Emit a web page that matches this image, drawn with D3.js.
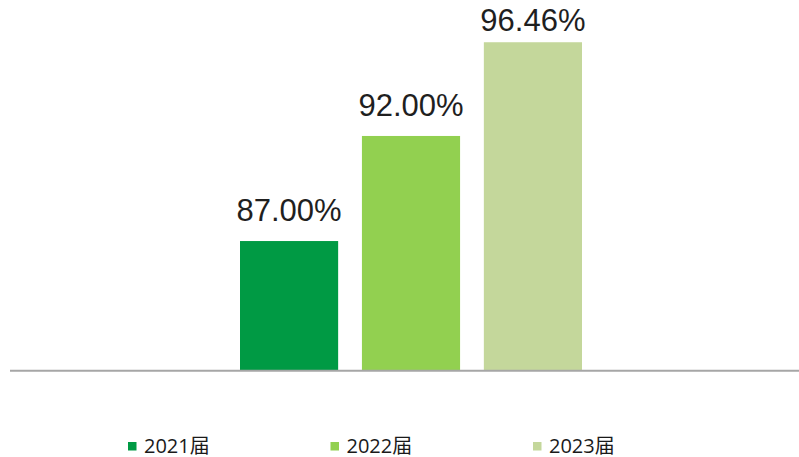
<!DOCTYPE html>
<html>
<head>
<meta charset="utf-8">
<script src="https://cdn.jsdelivr.net/npm/d3@7"></script>
<style>
  body { margin: 0; background: #fff; }
  svg { display: block; }
  .value { font-family: "Liberation Sans", Arial, sans-serif; font-size: 31px; fill: #1f1f1f; }
  .legend text { font-family: "Open Sans", "Noto Sans CJK SC", sans-serif; font-size: 20px; fill: #1a1a1a; }
</style>
</head>
<body>
<svg id="chart"></svg>
<script>
// dados
var categorias = ['2021届', '2022届', '2023届']
var valores = [87.00, 92.00, 96.46]
var cores = ['#009a44', '#92d050', '#c4d79b']

function desenhar_grafico() {
    var width = 799,
        height = 457

    var svg = d3.select('#chart')
        .attr('width', width)
        .attr('height', height)

    var baseline = 370.7

    var x = d3.scaleBand()
        .domain(categorias)
        .range([240, 582])
        .paddingInner(0.195)
        .paddingOuter(0)

    // eixo sem rótulos, escala truncada como no original
    var y = d3.scaleLinear()
        .domain([80.83, 98.47])
        .range([baseline, 0])

    var data = categorias.map(function (c, i) {
        return { name: c, valor: valores[i], cor: cores[i] }
    })

    var bars = svg.selectAll('.bar')
        .data(data)
        .enter()
        .append('g')

    bars.append('rect')
        .attr('class', 'bar')
        .attr('x', function (d) { return x(d.name) })
        .attr('y', function (d) { return y(d.valor) })
        .attr('width', x.bandwidth())
        .attr('height', function (d) { return baseline - y(d.valor) })
        .attr('fill', function (d) { return d.cor })

    /*rótulos de valor - o de cima fica mais perto da barra*/
    bars.append('text')
        .attr('class', 'value')
        .attr('x', function (d) { return x(d.name) + x.bandwidth() / 2 })
        .attr('y', function (d) { return Math.max(y(d.valor) - 20, 31) })
        .attr('text-anchor', 'middle')
        .text(function (d) { return d.valor.toFixed(2) + '%' })

    // linha do eixo x
    svg.append('line')
        .attr('x1', 10)
        .attr('x2', width)
        .attr('y1', baseline)
        .attr('y2', baseline)
        .attr('stroke', '#a6a6a6')
        .attr('stroke-width', 2)

    // legenda
    var legX = d3.scalePoint()
        .domain(categorias)
        .range([128, 533])

    var leg = svg.append('g')
        .attr('class', 'legend')
        .selectAll('g')
        .data(data)
        .enter()
        .append('g')
        .attr('transform', function (d) { return 'translate(' + legX(d.name) + ',0)' })

    leg.append('rect')
        .attr('x', 0)
        .attr('y', 442)
        .attr('width', 8.5)
        .attr('height', 8.5)
        .attr('fill', function (d) { return d.cor })

    leg.append('text')
        .attr('x', 16)
        .attr('y', 452.5)
        .text(function (d) { return d.name })
}

desenhar_grafico()
</script>
</body>
</html>
